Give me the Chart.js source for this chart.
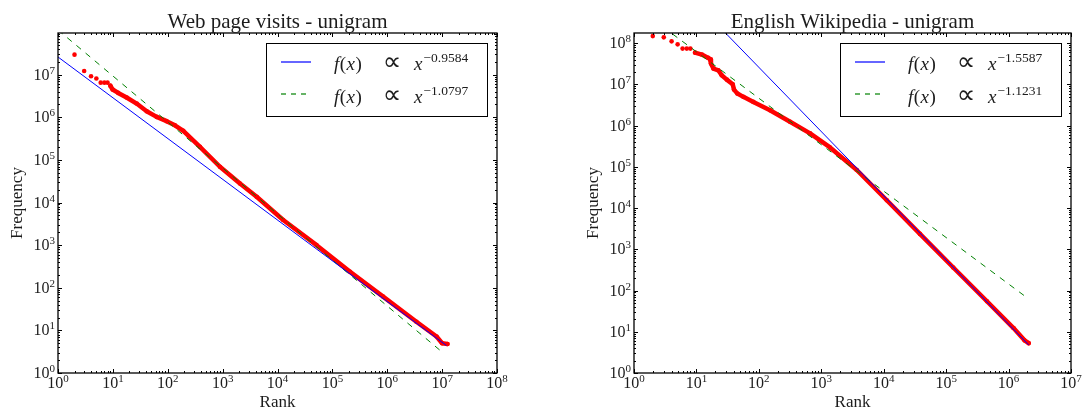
<!DOCTYPE html>
<html>
<head>
<meta charset="utf-8">
<script src="https://cdn.jsdelivr.net/npm/chart.js@4.4.1/dist/chart.umd.min.js"></script>
<style>
    html, body { margin: 0; padding: 0; background: #ffffff; }
    #wrap { position: relative; width: 1086px; height: 410px; }
    #wrap canvas { position: absolute; top: 0; }
</style>
</head>
<body>
<div id="wrap">
    <canvas id="webChart" width="543" height="410" style="left:0"></canvas>
    <canvas id="wikiChart" width="543" height="410" style="left:543px"></canvas>
</div>
<script>
// --- Web page visits (left) ---
const webRank = [2, 3, 4, 5, 6, 7, 8, 9, 9.9, 12.5, 17.8, 27.1, 41.3, 62.8, 95.5, 135, 192, 386, 893, 2070, 4170,
    1.27e4, 5.15e4, 2.1e5, 8.4e5, 3.4e6, 7.9e6, 1.0e7, 1.25e7];
const webFreq = [2.95e7, 1.22e7, 9.2e6, 8.1e6, 6.5e6, 6.5e6, 6.5e6, 5.5e6, 4.48e6, 3.73e6, 2.91e6, 2.1e6, 1.39e6, 1.02e6, 8.1e5, 6.5e5, 4.8e5, 2.03e5, 6.9e4, 2.8e4, 1.37e4,
    3.9e3, 1.0e3, 236, 62, 16, 7.2, 5.0, 4.8];
const webBlueRank = [1, 1.2e7];
const webBlueFreq = [2.6e7, 4.4];
const webGreenRank = [1, 1.0e7];
const webGreenFreq = [1.12e8, 3.1];
const webFitExps = ['\u22120.9584', '\u22121.0797'];
const webXTicks = [0, 1, 2, 3, 4, 5, 6, 7, 8];
const webYTicks = [0, 1, 2, 3, 4, 5, 6, 7];

// --- English Wikipedia (right) ---
const wikiRank = [2, 3, 4, 5, 6, 7, 8, 9.5, 12.2, 15.5, 16.5, 17.1, 18.7, 22.4, 25.4, 30.6, 38.1, 40, 45.3, 56.5, 81.7, 151, 316, 661, 1380, 3700,
    1.12e4, 3.8e4, 1.3e5, 4.5e5, 1.2e6, 1.8e6, 2.1e6];
const wikiFreq = [1.49e8, 1.39e8, 1.11e8, 9.4e7, 7.4e7, 7.4e7, 7.4e7, 5.9e7, 5.3e7, 4.4e7, 4.1e7, 3.2e7, 2.43e7, 2.2e7, 1.67e7, 1.31e7, 1.01e7, 7.5e6, 6.0e6, 5.0e6, 3.77e6, 2.37e6, 1.24e6, 6.5e5, 2.96e5, 8.4e4,
    1.55e4, 2.37e3, 363, 55, 12.3, 6.2, 5.3];
const wikiBlueRank = [1, 2.1e6];
const wikiBlueFreq = [3.4e10, 4.8];
const wikiGreenRank = [1, 1.9e6];
const wikiGreenFreq = [8.3e8, 70];
const wikiFitExps = ['\u22121.5587', '\u22121.1231'];
const wikiXTicks = [0, 1, 2, 3, 4, 5, 6, 7];
const wikiYTicks = [0, 1, 2, 3, 4, 5, 6, 7, 8];

const FONT = "'Liberation Serif', 'DejaVu Serif', serif";
const INK = '#1c1c1c';

const pairs = (xs, ys) => xs.map((x, i) => ({ x: x, y: ys[i] }));

// "10" with a raised exponent
function powLabel(ctx, exp, x, y, align) {
    ctx.font = `16px ${FONT}`;
    const baseW = ctx.measureText('10').width;
    ctx.font = `11px ${FONT}`;
    const expW = ctx.measureText(String(exp)).width;
    const x0 = align === 'center' ? x - (baseW + expW) / 2 : x - baseW - expW;
    ctx.font = `16px ${FONT}`;
    ctx.fillText('10', x0, y);
    ctx.font = `11px ${FONT}`;
    ctx.fillText(String(exp), x0 + baseW, y - 6);
}

// f(x) ∝ x^exp
function fitLabel(ctx, exp, x, y) {
    const parts = [['italic', 'f'], ['normal', '('], ['italic', 'x'], ['normal', ')']];
    let cx = x;
    parts.forEach(([style, t]) => {
        ctx.font = `${style} 19px ${FONT}`;
        ctx.fillText(t, cx, y);
        cx += ctx.measureText(t).width + 0.5;
    });
    ctx.font = "26px 'DejaVu Sans', sans-serif";
    const pw = ctx.measureText('\u221D').width;
    ctx.fillText('\u221D', x + 58 - pw / 2, y);
    ctx.font = `italic 19px ${FONT}`;
    ctx.fillText('x', x + 80, y);
    const xw = ctx.measureText('x').width;
    ctx.font = `13.5px ${FONT}`;
    ctx.fillText(exp, x + 81 + xw, y - 8);
}

const decor = {
    id: 'decor',
    afterDatasetsDraw(chart, args, opts) {
        const { ctx, chartArea: a, scales: { x, y } } = chart;
        ctx.save();

        // legend box
        const bx = a.right - 231, by = a.top + 10;
        ctx.fillStyle = '#ffffff';
        ctx.fillRect(bx, by, 221, 73);
        ctx.strokeStyle = '#000000';
        ctx.lineWidth = 1;
        ctx.strokeRect(bx + 0.5, by + 0.5, 221, 73);
        opts.colors.forEach((c, i) => {
            const ly = by + 19 + i * 32;
            ctx.beginPath();
            ctx.strokeStyle = c;
            ctx.globalAlpha = 0.6;
            ctx.lineWidth = 2;
            ctx.setLineDash(i === 1 ? [5, 5] : []);
            ctx.moveTo(bx + 15, ly);
            ctx.lineTo(bx + 45, ly);
            ctx.stroke();
            ctx.globalAlpha = 1;
            ctx.setLineDash([]);
            ctx.fillStyle = INK;
            fitLabel(ctx, opts.fits[i], bx + 68, by + 27 + i * 33);
        });

        // inward ticks on all four sides
        ctx.strokeStyle = '#000000';
        ctx.lineWidth = 1;
        const ticks = (scale, horizontal) => {
            const d0 = Math.floor(Math.log10(scale.min));
            const d1 = Math.ceil(Math.log10(scale.max));
            for (let d = d0; d <= d1; d++) {
                for (let k = 1; k < 10; k++) {
                    const v = k * Math.pow(10, d);
                    if (v < scale.min * 0.999 || v > scale.max * 1.001) continue;
                    const len = k === 1 ? 4 : 2;
                    const p = Math.round(scale.getPixelForValue(v)) + 0.5;
                    ctx.beginPath();
                    if (horizontal) {
                        ctx.moveTo(p, a.bottom); ctx.lineTo(p, a.bottom - len);
                        ctx.moveTo(p, a.top); ctx.lineTo(p, a.top + len);
                    } else {
                        ctx.moveTo(a.left, p); ctx.lineTo(a.left + len, p);
                        ctx.moveTo(a.right, p); ctx.lineTo(a.right - len, p);
                    }
                    ctx.stroke();
                }
            }
        };
        ticks(x, true);
        ticks(y, false);

        ctx.lineWidth = 1.3;
        ctx.strokeRect(a.left, a.top, a.right - a.left, a.bottom - a.top);

        // tick labels
        ctx.fillStyle = INK;
        ctx.textAlign = 'left';
        ctx.textBaseline = 'alphabetic';
        opts.xTicks.forEach(e => powLabel(ctx, e, x.getPixelForValue(Math.pow(10, e)), a.bottom + 15, 'center'));
        opts.yTicks.forEach(e => powLabel(ctx, e, a.left - 3, y.getPixelForValue(Math.pow(10, e)) + 5, 'right'));

        // titles
        const cx = (a.left + a.right) / 2;
        ctx.textAlign = 'center';
        ctx.font = `21px ${FONT}`;
        ctx.fillText(opts.title, cx, a.top - 5);
        ctx.font = `17px ${FONT}`;
        ctx.fillText('Rank', cx, a.bottom + 34);
        ctx.translate(a.left - 40, (a.top + a.bottom) / 2);
        ctx.rotate(-Math.PI / 2);
        ctx.textBaseline = 'middle';
        ctx.fillText('Frequency', 0, 0);
        ctx.restore();
    }
};

function makeChart(id, cfg) {
    return new Chart(document.getElementById(id), {
        type: 'scatter',
        data: {
            datasets: [
                {
                    data: pairs(cfg.blueRank, cfg.blueFreq),
                    showLine: true, borderColor: '#0000ff', borderWidth: 1,
                    pointRadius: 0, order: 1, clip: 0
                },
                {
                    data: pairs(cfg.greenRank, cfg.greenFreq),
                    showLine: true, borderColor: '#008000', borderWidth: 1, borderDash: [6, 6],
                    pointRadius: 0, order: 1, clip: 0
                },
                {
                    data: pairs(cfg.rank, cfg.freq),
                    showLine: true, borderColor: '#ff0000', borderWidth: 4.5,
                    borderCapStyle: 'round', borderJoinStyle: 'round',
                    pointRadius: 2.3, pointBackgroundColor: '#ff0000', pointBorderWidth: 0,
                    order: 2, clip: 3,
                    segment: {
                        borderColor: c => c.p0.parsed.x >= cfg.chainFrom ? '#ff0000' : 'rgba(0,0,0,0)'
                    }
                }
            ]
        },
        options: {
            responsive: false,
            animation: false,
            devicePixelRatio: 1,
            layout: { padding: cfg.padding },
            scales: {
                x: { type: 'logarithmic', min: 1, max: cfg.xMax, display: false },
                y: { type: 'logarithmic', min: 1, max: cfg.yMax, display: false }
            },
            plugins: {
                legend: { display: false },
                tooltip: { enabled: false },
                decor: {
                    title: cfg.title,
                    fits: cfg.fits,
                    colors: ['#0000ff', '#008000'],
                    xTicks: cfg.xTicks,
                    yTicks: cfg.yTicks
                }
            }
        },
        plugins: [decor]
    });
}

makeChart('webChart', {
    title: 'Web page visits - unigram',
    rank: webRank, freq: webFreq,
    blueRank: webBlueRank, blueFreq: webBlueFreq,
    greenRank: webGreenRank, greenFreq: webGreenFreq,
    fits: webFitExps, xTicks: webXTicks, yTicks: webYTicks,
    xMax: 1e8, yMax: 9.5e7, chainFrom: 9,
    padding: { left: 58, right: 46, top: 33, bottom: 37 }
});

makeChart('wikiChart', {
    title: 'English Wikipedia - unigram',
    rank: wikiRank, freq: wikiFreq,
    blueRank: wikiBlueRank, blueFreq: wikiBlueFreq,
    greenRank: wikiGreenRank, greenFreq: wikiGreenFreq,
    fits: wikiFitExps, xTicks: wikiXTicks, yTicks: wikiYTicks,
    xMax: 1e7, yMax: 1.77e8, chainFrom: 9,
    padding: { left: 91, right: 15, top: 33, bottom: 37 }
});
</script>
</body>
</html>
